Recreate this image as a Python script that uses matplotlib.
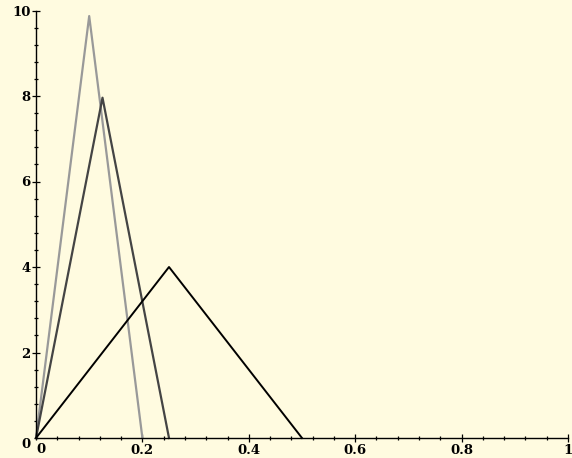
import matplotlib.pyplot as plt
from matplotlib.ticker import MultipleLocator
from matplotlib.transforms import ScaledTranslation

# three triangle pulses (x vertices, y vertices)
x_wide = [0, 0.25, 0.5]
y_wide = [0, 4, 0]
x_mid = [0, 0.125, 0.25]
y_mid = [0, 7.96, 0]
x_narrow = [0, 0.1, 0.2]
y_narrow = [0, 9.87, 0]

xticks = [0.2, 0.4, 0.6, 0.8, 1]
xtick_labels = ['0.2', '0.4', '0.6', '0.8', '1']
yticks = [2, 4, 6, 8, 10]
ytick_labels = ['2', '4', '6', '8', '10']

bg = '#fffbe0'
font = dict(family='DejaVu Serif', weight='heavy', size=9.5)

fig = plt.figure(figsize=(5.72, 4.58), dpi=100, facecolor=bg)
ax = fig.add_axes([36/572, 20/458, 532/572, 427.5/458], facecolor=bg)

ax.plot(x_narrow, y_narrow, color='#999999', lw=1.6, clip_on=False)
ax.plot(x_mid, y_mid, color='#444444', lw=1.6, clip_on=False)
ax.plot(x_wide, y_wide, color='black', lw=1.4, clip_on=False)

ax.set_xlim(0, 1)
ax.set_ylim(0, 10)
for s in ['top', 'right']:
    ax.spines[s].set_visible(False)
for s in ['left', 'bottom']:
    ax.spines[s].set_linewidth(1.0)

ax.set_xticks(xticks)
ax.set_xticklabels(xtick_labels, fontdict=font)
ax.set_yticks(yticks)
ax.set_yticklabels(ytick_labels, fontdict=font)
ax.xaxis.set_minor_locator(MultipleLocator(0.04))
ax.yaxis.set_minor_locator(MultipleLocator(0.4))
ax.tick_params(which='major', direction='inout', length=6, width=0.9, pad=1)
ax.tick_params(which='minor', direction='inout', length=3.5, width=0.9)

# origin labels, nudged like the original
ax.text(0, 0, '0', fontdict=font, ha='left', va='top',
        transform=ax.transData + ScaledTranslation(0, -5/100, fig.dpi_scale_trans))
ax.text(0, 0, '0', fontdict=font, ha='right', va='center',
        transform=ax.transData + ScaledTranslation(-6/100, -7/100, fig.dpi_scale_trans))

fig.savefig('out.png', dpi=100, facecolor=bg)
